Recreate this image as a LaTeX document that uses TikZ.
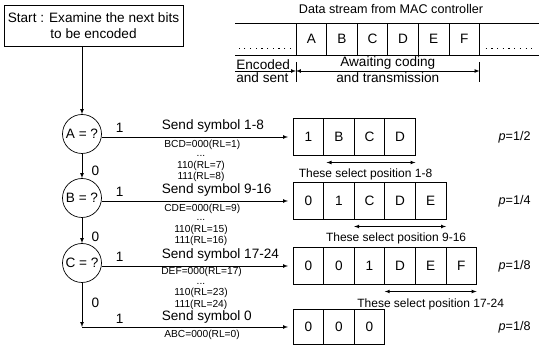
\documentclass[tikz,border=0pt]{standalone}
\usepackage{fontspec}
\setmainfont{Liberation Sans}
\usepackage{tikz}
\usetikzlibrary{arrows,positioning,calc,shapes.geometric}

\newcommand{\bigtxt}{\fontsize{13.6}{15.5}\selectfont}
\newcommand{\titletxt}{\fontsize{12.6}{14}\selectfont}
\newcommand{\midtxt}{\fontsize{12}{14}\selectfont}
\newcommand{\codetxt}{\fontsize{10.2}{11.5}\selectfont}

\begin{document}
\begin{tikzpicture}[x=1pt, y=-1pt, node distance=0pt, line width=0.7pt, font=\bigtxt]
\tikzstyle{startbox}=[rectangle,
                      draw,
                      minimum width=179pt,
                      minimum height=41pt,
                      inner sep=1pt,
                      align=center]
\tikzstyle{test}=[circle,
                  draw,
                  minimum size=39pt,
                  inner sep=0pt]
\tikzstyle{cell}=[rectangle,
                  draw,
                  minimum width=30.6pt,
                  minimum height=37pt,
                  inner sep=0pt,
                  outer sep=0pt]
\tikzstyle{slot}=[cell, minimum height=32pt]
\tikzstyle{lbl}=[anchor=south west, inner sep=1.5pt]
\tikzstyle{code}=[anchor=north west, inner sep=1pt, font=\codetxt]
\tikzstyle{more}=[align=center, inner sep=0pt, font=\codetxt]
\tikzstyle{select}=[font=\midtxt]
\tikzstyle{dots}=[line width=1pt, dash pattern=on 1.2pt off 4.5pt]
\useasboundingbox (0,0) rectangle (539,355);

\node[startbox] (start) at (93.5,25.5) {Start : Examine the next bits\\to be encoded};

\node[test] (testA) at (82,134) {A = ?};
\node[test] (testB) at (82,198) {B = ?};
\node[test] (testC) at (82,263) {C = ?};
\coordinate (corner) at (82,327);

% data stream
\node[font=\titletxt] (title) at (391,9) {Data stream from MAC controller};
\node[slot] (sA) at (311.3,39) {A};
\node[slot, right=of sA] (sB) {B};
\node[slot, right=of sB] (sC) {C};
\node[slot, right=of sC] (sD) {D};
\node[slot, right=of sD] (sE) {E};
\node[slot, right=of sE] (sF) {F};
\draw (sA.north west) -- +(-61,0);
\draw (sA.south west) -- +(-61,0);
\draw (sF.north east) -- +(60,0);
\draw (sF.south east) -- +(60,0);
\draw[dots] ($(sA.south west)+(-5,-6)$) -- +(-52,0);
\draw[dots] ($(sF.south east)+(6,-6)$) -- +(48,0);

\coordinate (encstart) at (235,71);
\coordinate (tickL) at (sA.west |- encstart);
\coordinate (tickR) at (sF.east |- encstart);
\draw ($(tickL)+(0,-9)$) -- ($(tickL)+(0,11)$);
\draw ($(tickR)+(0,-9)$) -- ($(tickR)+(0,11)$);
\draw[-latex] (encstart) -- (tickL);
\draw[latex-latex] (tickL) -- (tickR);
\node[anchor=south west, inner sep=1pt] (encoded) at (encstart) {Encoded};
\node[anchor=north west, inner sep=1pt] (sent) at (encstart) {and sent};
\node[anchor=south, inner sep=1pt] (awaiting) at ($(tickL)!.5!(tickR)$) {Awaiting coding};
\node[anchor=north, inner sep=1pt] (transmission) at ($(tickL)!.5!(tickR)$) {and transmission};

% resulting code words
\node[cell] (first1) at (308.3,137) {1};
\node[cell, right=of first1] (first2) {B};
\node[cell, right=of first2] (first3) {C};
\node[cell, right=of first3] (first4) {D};

\node[cell] (second1) at (308.3,201) {0};
\node[cell, right=of second1] (second2) {1};
\node[cell, right=of second2] (second3) {C};
\node[cell, right=of second3] (second4) {D};
\node[cell, right=of second4] (second5) {E};

\node[cell] (third1) at (308.3,266) {0};
\node[cell, right=of third1] (third2) {0};
\node[cell, right=of third2] (third3) {1};
\node[cell, right=of third3] (third4) {D};
\node[cell, right=of third4] (third5) {E};
\node[cell, right=of third5] (third6) {F};

\node[cell, minimum height=35pt] (fourth1) at (308.3,327) {0};
\node[cell, minimum height=35pt, right=of fourth1] (fourth2) {0};
\node[cell, minimum height=35pt, right=of fourth2] (fourth3) {0};

\node[anchor=west, font=\titletxt] (probA) at (495,137) {\textit{p}=1/2};
\node[anchor=west, font=\titletxt] (probB) at (495,201) {\textit{p}=1/4};
\node[anchor=west, font=\titletxt] (probC) at (495,266) {\textit{p}=1/8};
\node[anchor=west, font=\titletxt] (probD) at (495,327) {\textit{p}=1/8};

\draw[latex-latex] ($(first2.south west)+(3,7)$) -- ($(first4.south east)+(0,7)$);
\node[select] (selA) at ($(first2.south west)!.5!(first4.south east)+(-4,19)$) {These select position 1-8};
\draw[latex-latex] ($(second3.south west)+(0,7)$) -- ($(second5.south east)+(0,7)$);
\node[select] (selB) at ($(second3.south west)!.5!(second5.south east)+(-4,19)$) {These select position 9-16};
\draw[latex-latex] ($(third4.south west)+(0,7)$) -- ($(third6.south east)+(0,7)$);
\node[select] (selC) at ($(third4.south west)!.5!(third6.south east)+(0,20)$) {These select position 17-24};

% decisions
\draw[-latex] (start.south -| testA) -- (testA);
\path[-latex]
(testA) edge node[right=6pt, pos=.7] {0} (testB)
(testB) edge node[right=6pt, pos=.75] {0} (testC);
\draw[-latex] (testC) -- node[right=6pt, pos=.45] {0} (corner);

\path[-latex, shorten >=5pt]
(testA.east |- first1) edge (first1)
(testB.east |- second1) edge (second1)
(testC.east |- third1) edge (third1)
(corner) edge (fourth1);

\node[lbl] (oneA) at (114,134) {1};
\node[lbl] (sendA) at (160,134) {Send symbol 1-8};
\node[code] (bcd) at (163,139) {BCD=000(RL=1)};
\node[more] (bcdmore) at (201,169) {...\\110(RL=7)\\111(RL=8)};

\node[lbl] (oneB) at (114,198) {1};
\node[lbl] (sendB) at (160,198) {Send symbol 9-16};
\node[code] (cde) at (163,203) {CDE=000(RL=9)};
\node[more] (cdemore) at (201,233) {...\\110(RL=15)\\111(RL=16)};

\node[lbl] (oneC) at (114,263) {1};
\node[lbl] (sendC) at (160,263) {Send symbol 17-24};
\node[code] (def) at (160,266) {DEF=000(RL=17)};
\node[more] (defmore) at (201,296.2) {...\\110(RL=23)\\111(RL=24)};

\node[lbl] (oneD) at (114,325.5) {1};
\node[lbl] (sendD) at (160,325.5) {Send symbol 0};
\node[code] (abc) at (163,329) {ABC=000(RL=0)};
\end{tikzpicture}
\end{document}
